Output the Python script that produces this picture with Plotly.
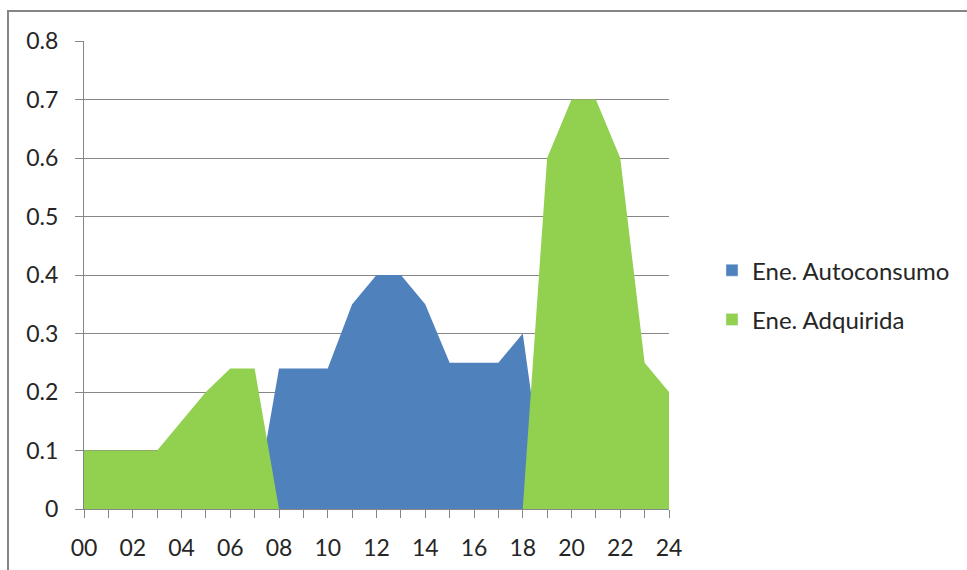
import plotly.graph_objects as go

hours = list(range(25))
hour_labels = [f"{h:02d}" for h in range(0, 25, 2)]
autoconsumo = [0, 0, 0, 0, 0, 0, 0, 0, 0.24, 0.24, 0.24, 0.35, 0.40, 0.40, 0.35,
               0.25, 0.25, 0.25, 0.30, 0, 0, 0, 0, 0, 0]
adquirida = [0.10, 0.10, 0.10, 0.10, 0.15, 0.20, 0.24, 0.24, 0, 0, 0, 0, 0, 0, 0,
             0, 0, 0, 0, 0.60, 0.70, 0.70, 0.60, 0.25, 0.20]
names = ["Ene. Autoconsumo", "Ene. Adquirida"]
colors = ["#4F81BD", "#92D050"]

FONT = "Lato"
GRAY = "#868686"

fig = go.Figure()
for vals, name, col in zip([autoconsumo, adquirida], names, colors):
    fig.add_trace(go.Scatter(x=hours, y=vals, mode="none", fill="tozeroy",
                             fillcolor=col, showlegend=False, hoverinfo="skip"))
for name, col in zip(names, colors):
    fig.add_trace(go.Bar(x=[None], y=[None], name=name, marker_color=col,
                         legendgroup=name))

fig.update_layout(
    width=967, height=570,
    margin=dict(l=84, r=298, t=41, b=61),
    paper_bgcolor="white", plot_bgcolor="white",
    font=dict(family=FONT, size=23, color="#262626"),
    showlegend=True,
    legend=dict(x=1.0735, y=0.457, xanchor="left", yanchor="middle",
                font=dict(family=FONT, size=24, color="#262626"),
                tracegroupgap=15, itemwidth=30),
    xaxis=dict(range=[0, 24], tickmode="array", tickvals=list(range(0, 25, 2)),
               ticktext=hour_labels, ticks="outside", ticklen=8, tickcolor=GRAY,
               showline=True, linecolor=GRAY, linewidth=1, showgrid=False,
               zeroline=False, ticklabelstandoff=10, automargin=False,
               minor=dict(ticks="outside", dtick=1, ticklen=8, tickcolor=GRAY,
                          showgrid=False)),
    yaxis=dict(range=[0, 0.8], dtick=0.1, ticks="outside", ticklen=8, tickcolor=GRAY,
               showline=True, linecolor=GRAY, linewidth=1, showgrid=True,
               gridcolor=GRAY, gridwidth=1, zeroline=False, ticklabelstandoff=12,
               automargin=False),
    shapes=[dict(type="rect", xref="paper", yref="paper",
                 x0=-0.1299, x1=1.53, y0=-0.15, y1=1.0641,
                 line=dict(color=GRAY, width=2), layer="above")],
)

fig.write_html("out.html")
